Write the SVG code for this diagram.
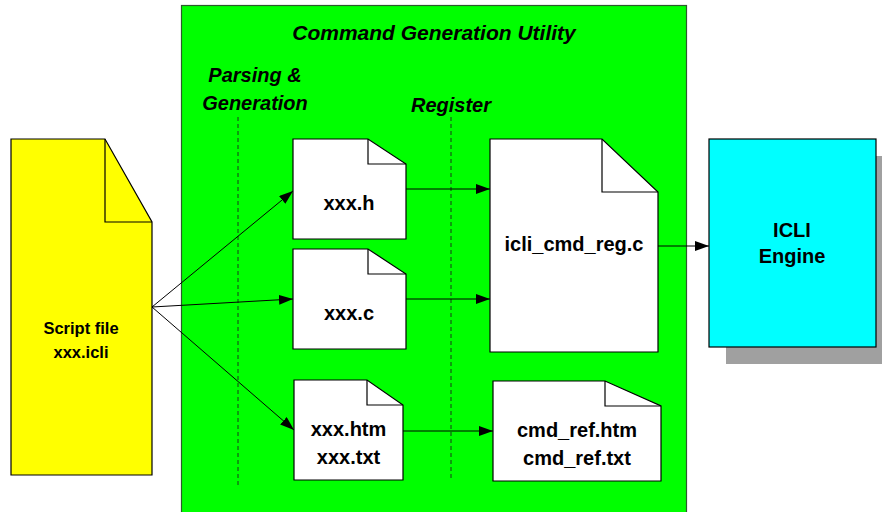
<svg xmlns="http://www.w3.org/2000/svg" width="882" height="512" viewBox="0 0 882 512">
<defs>
<marker id="ah" viewBox="0 0 14 10" refX="14" refY="5" markerWidth="14" markerHeight="10" markerUnits="userSpaceOnUse" orient="auto">
<path d="M0,0 L14,5 L0,10 z" fill="#000"/>
</marker>
<style>
.doc{fill:#fff;stroke:#000;stroke-width:1.2}
.fold{fill:none;stroke:#000;stroke-width:1.2}
.t{font-family:"Liberation Sans",Arial,sans-serif;font-weight:bold;fill:#000;text-anchor:middle}
.ti{font-family:"Liberation Sans",Arial,sans-serif;font-weight:bold;font-style:italic;fill:#000;text-anchor:middle}
.c{fill:none;stroke:#000;stroke-width:1;marker-end:url(#ah)}
.dash{stroke:#1a3a1a;stroke-width:1;stroke-dasharray:4,3}
</style>
</defs>
<rect width="882" height="512" fill="#fff"/>

<g id="utility">
<rect x="181.5" y="5.5" width="505" height="510" fill="#00ff00" stroke="#2d5a2d" stroke-width="1.2"/>
<text class="ti" x="434" y="40" font-size="21">Command Generation Utility</text>
<text class="ti" x="255" y="82" font-size="20">Parsing &amp;</text>
<text class="ti" x="255" y="110" font-size="20">Generation</text>
<text class="ti" x="451" y="112" font-size="20">Register</text>
<line class="dash" x1="238" y1="117" x2="238" y2="486"/>
<line class="dash" x1="451" y1="117" x2="451" y2="480"/>
</g>

<g id="script">
<path d="M11,139 L105,139 L152,222 L152,475 L11,475 Z" fill="#ffff00" stroke="#000" stroke-width="1.2"/>
<path class="fold" d="M105,139 L105,222 L152,222"/>
<text class="t" x="81" y="334" font-size="16.5">Script file</text>
<text class="t" x="81" y="358" font-size="16.5">xxx.icli</text>
</g>

<g id="xxx_h">
<path class="doc" d="M293,139 L368,139 L406,164 L406,239 L293,239 Z"/>
<path class="fold" d="M368,139 L368,164 L406,164"/>
<text class="t" x="349" y="210" font-size="20">xxx.h</text>
</g>

<g id="xxx_c">
<path class="doc" d="M293,249 L368,249 L406,274 L406,349 L293,349 Z"/>
<path class="fold" d="M368,249 L368,274 L406,274"/>
<text class="t" x="349" y="320" font-size="20">xxx.c</text>
</g>

<g id="xxx_htm">
<path class="doc" d="M294,380 L367,380 L403,405 L403,480 L294,480 Z"/>
<path class="fold" d="M367,380 L367,405 L403,405"/>
<text class="t" x="348.5" y="436" font-size="20">xxx.htm</text>
<text class="t" x="348.5" y="464" font-size="20">xxx.txt</text>
</g>

<g id="icli_cmd_reg">
<path class="doc" d="M490,139 L602,139 L658,192 L658,352 L490,352 Z"/>
<path class="fold" d="M602,139 L602,192 L658,192"/>
<text class="t" x="574" y="251" font-size="20">icli_cmd_reg.c</text>
</g>

<g id="cmd_ref">
<path class="doc" d="M493,381 L605,381 L661,406 L661,481 L493,481 Z"/>
<path class="fold" d="M605,381 L605,406 L661,406"/>
<text class="t" x="577" y="437" font-size="20">cmd_ref.htm</text>
<text class="t" x="577" y="465" font-size="20">cmd_ref.txt</text>
</g>

<g id="engine">
<rect x="726" y="156" width="167" height="208" fill="#a0a0a0"/>
<rect x="709" y="139" width="167" height="208" fill="#00ffff" stroke="#000" stroke-width="1.2"/>
<text class="t" x="792" y="237" font-size="20">ICLI</text>
<text class="t" x="792" y="263" font-size="20">Engine</text>
</g>

<g id="connectors">
<line class="c" x1="152" y1="307" x2="293" y2="191"/>
<line class="c" x1="152" y1="307" x2="293" y2="299"/>
<line class="c" x1="152" y1="307" x2="294" y2="430"/>
<line class="c" x1="406" y1="189" x2="490" y2="189"/>
<line class="c" x1="406" y1="299" x2="490" y2="299"/>
<line class="c" x1="403" y1="431" x2="493" y2="431"/>
<line class="c" x1="658" y1="246" x2="709" y2="246"/>
</g>
</svg>
